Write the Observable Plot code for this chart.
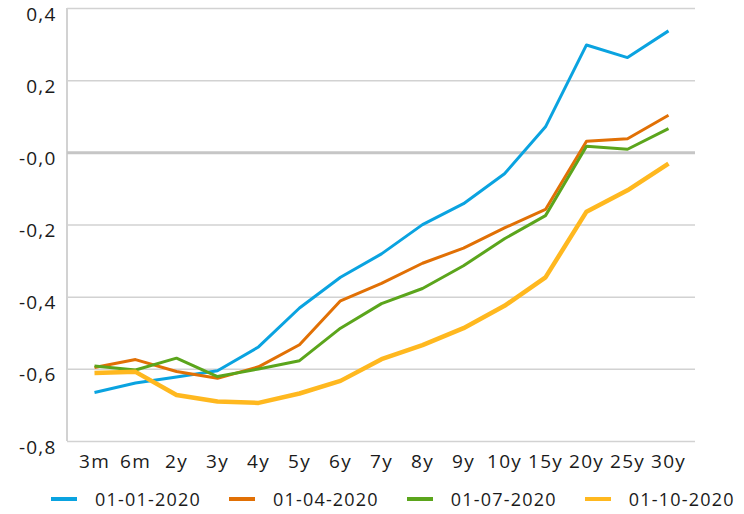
<!DOCTYPE html>
<html>
<head>
<meta charset="utf-8">
<script src="https://cdn.jsdelivr.net/npm/d3@7"></script>
<script src="https://cdn.jsdelivr.net/npm/@observablehq/plot@0.6"></script>
<style>
  body { margin: 0; background: #fff; font-family: "Open Sans", sans-serif; color: #1a1a1a; overflow: hidden; }
  #legend { display: flex; align-items: center; padding-left: 51px; margin-top: 2px; height: 26px; line-height: 22px; font-size: 18px; letter-spacing: 1.2px; white-space: nowrap; }
  .item { display: flex; align-items: center; margin-right: 28px; white-space: nowrap; }
  .sw { width: 26px; height: 4px; margin-right: 18px; flex: none; }
</style>
</head>
<body>
<div id="chart"></div>
<div id="legend"></div>
<script>
const maturities = ["3m","6m","2y","3y","4y","5y","6y","7y","8y","9y","10y","15y","20y","25y","30y"];
const seriesNames = ["01-01-2020","01-04-2020","01-07-2020","01-10-2020"];
const seriesColors = ["#0aa3e0","#e17005","#5ba51c","#ffb81f"];
const seriesWidths = [3, 3, 3, 4.5];
const s2020_01 = [-0.664,-0.638,-0.621,-0.604,-0.538,-0.430,-0.345,-0.280,-0.199,-0.141,-0.058,0.072,0.299,0.264,0.338];
const s2020_04 = [-0.595,-0.573,-0.606,-0.625,-0.593,-0.532,-0.410,-0.362,-0.306,-0.264,-0.208,-0.157,0.032,0.039,0.104];
const s2020_07 = [-0.591,-0.602,-0.569,-0.620,-0.599,-0.576,-0.486,-0.418,-0.376,-0.313,-0.238,-0.174,0.018,0.010,0.067];
const s2020_10 = [-0.610,-0.607,-0.671,-0.689,-0.693,-0.667,-0.632,-0.572,-0.533,-0.486,-0.424,-0.345,-0.163,-0.104,-0.030];
const yTicks = [0.4,0.2,0,-0.2,-0.4,-0.6,-0.8];
const yTickLabels = ["0,4","0,2","-0,0","-0,2","-0,4","-0,6","-0,8"];

const allSeries = [s2020_01, s2020_04, s2020_07, s2020_10];
const data = allSeries.flatMap((vals, i) => vals.map((v, j) => ({series: seriesNames[i], maturity: maturities[j], value: v})));

const chart = Plot.plot({
  width: 744,
  height: 484,
  marginLeft: 67,
  marginRight: 49,
  marginTop: 8,
  marginBottom: 43,
  style: {fontFamily: "Open Sans, sans-serif", fontSize: "19px", color: "#1a1a1a", letterSpacing: "1.2px", background: "#fff", overflow: "visible"},
  x: {type: "point", domain: maturities, padding: 0.5, label: null},
  y: {domain: [-0.8, 0.4], label: null},
  marks: [
    Plot.ruleY(yTicks.filter(d => d !== 0), {stroke: "#d2d2d2", strokeWidth: 1.5}),
    Plot.ruleY([0], {stroke: "#c6c6c6", strokeWidth: 3}),
    Plot.axisY({ticks: yTicks, tickSize: 0, tickPadding: 11, dy: 6, tickFormat: d => yTickLabels[yTicks.indexOf(d)], fill: "#1a1a1a"}),
    Plot.axisX({tickSize: 0, tickPadding: 13, fill: "#1a1a1a"}),
    ...seriesNames.map((name, i) => Plot.line(data.filter(d => d.series === name), {
      x: "maturity", y: "value", stroke: seriesColors[i], strokeWidth: seriesWidths[i], strokeLinejoin: "round", strokeLinecap: "butt"
    }))
  ]
});
document.getElementById("chart").appendChild(chart);

// left axis line
const ys = chart.scale("y");
d3.select(chart).insert("line", ":first-child")
  .attr("x1", 67).attr("x2", 67)
  .attr("y1", ys.apply(0.4)).attr("y2", ys.apply(-0.8))
  .attr("stroke", "#d2d2d2").attr("stroke-width", 2);

const legend = d3.select("#legend");
seriesNames.forEach((name, i) => {
  const it = legend.append("div").attr("class", "item");
  it.append("div").attr("class", "sw").style("background", seriesColors[i]);
  it.append("span").text(name);
});
</script>
</body>
</html>
